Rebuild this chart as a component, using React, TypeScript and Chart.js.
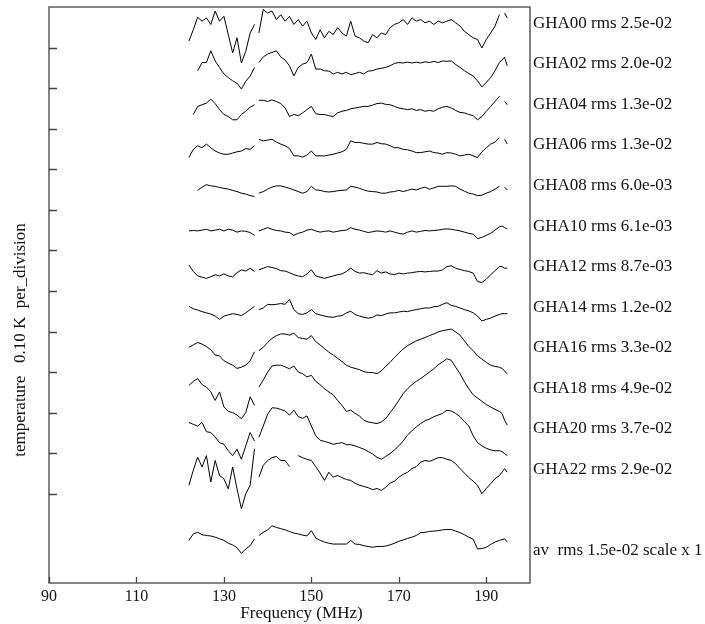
import React, { useEffect, useRef } from "react";
import { Chart, registerables } from "chart.js";

Chart.register(...registerables);

// frequency grid (MHz); entries 137.5 and 193.6 sit in the data gaps
const freqs = [
  122, 123, 124, 125, 126, 127, 128, 129, 130, 131, 132, 133, 134, 135, 136, 137,
  137.5,
  138, 139, 140, 141, 142, 143, 144, 145, 146, 147,
  148, 149, 150, 151, 152, 153, 154, 155, 156, 157,
  158, 159, 160, 161, 162, 163, 164, 165, 166, 167,
  168, 169, 170, 171, 172, 173, 174, 175, 176, 177,
  178, 179, 180, 181, 182, 183, 184, 185, 186, 187,
  188, 189, 190, 191, 192, 193,
  193.6, 194.2, 194.8,
];

// residuals in mK
const gha00 = [
  -44, -16, 15, 5, 13, -3, 30, 5, 17, -28, -73, -36, -98, -69, -24, -3,
  null,
  -24, 34, 25, 30, 9, 21, 5, 17, -3, 9,
  -7, 5, -24, -40, -16, -36, -20, -28, -11, -24,
  -32, 5, -32, -36, -44, -48, -28, -36, -24, -28,
  -11, -3, 1, 9, -3, 13, 5, 9, 1, 5,
  -3, 5, 1, 5, 9, 1, -7, -20, -28, -36,
  -40, -61, -40, -24, -7, 21,
  null, 25, 13,
];
const gha02 = [
  null, null, -17, 3, 3, 32, 7, -9, -25, -34, -42, -48, -62, -43, -30, -9,
  null,
  3, 17, 24, 28, 32, 17, 9, -5, -30, -9,
  -1, 3, 24, -13, -13, -17, -18, -25, -21, -25,
  -21, -27, -24, -21, -25, -18, -17, -13, -11, -9,
  -5, 1, 3, 2, 4, 2, 4, 2, 5, 3,
  6, 3, 7, 6, 7, -2, -9, -17, -24, -30,
  -42, -57, -46, -34, -17, 3,
  10, 16, -5,
];
const gha04 = [
  null, -25, -5, -1, 3, 13, 2, -13, -25, -30, -38, -38, -25, -17, -7, -1,
  null,
  10, 10, 7, 11, 7, 2, -9, -30, -25, -28,
  -21, -13, -5, -23, -25, -25, -28, -30, -21, -17,
  -15, -11, -9, -7, -5, -5, -2, 2, 3, 0,
  -1, -5, -9, -11, -13, -11, -15, -13, -17, -15,
  -17, -11, -7, -5, -9, -15, -20, -21, -25, -28,
  -38, -30, -17, -5, 7, 20,
  null, 7, -1,
];
const gha06 = [
  -31, -11, -2, -7, 2, -7, -15, -20, -23, -23, -20, -17, -15, -9, -11, -2,
  null,
  14, 10, 12, 14, 7, 2, -2, -9, -27, -27,
  -30, -25, -15, -27, -27, -27, -25, -23, -20, -17,
  -11, 10, 6, 6, 4, 2, 2, 6, 3, 2,
  -2, -7, -7, -11, -12, -15, -19, -19, -17, -15,
  -19, -20, -23, -19, -20, -23, -27, -25, -23, -27,
  -31, -17, -7, 2, 7, 18,
  null, 14, 2,
];
const gha08 = [
  null, null, -12, -4, 2, -1, -2, -5, -7, -9, -12, -15, -19, -21, -25, -27,
  null,
  -19, -15, -9, -4, -1, -1, -4, -7, -11, -15,
  -19, -15, -2, -11, -12, -15, -16, -15, -13, -12,
  -11, -2, -4, -7, -11, -14, -15, -16, -19, -19,
  -16, -15, -12, -15, -12, -9, -11, -7, -4, -9,
  -6, -2, -2, -2, -1, -2, -9, -14, -19, -21,
  -25, -24, -19, -15, -9, -2,
  null, -4, -11,
];
const gha10 = [
  -12, -11, -12, -10, -8, -12, -10, -8, -12, -8, -10, -15, -12, -13, -16, -23,
  null,
  -12, -8, -4, -8, -11, -12, -15, -16, -23, -18,
  -15, -10, -8, -12, -15, -13, -12, -15, -13, -11,
  -10, -4, -8, -10, -13, -16, -14, -12, -13, -15,
  -12, -15, -18, -20, -15, -12, -15, -13, -11, -12,
  -11, -10, -8, -7, -8, -10, -12, -15, -18, -20,
  -31, -28, -23, -18, -10, -2,
  0, -4, -7,
];
const gha12 = [
  4, -12, -23, -26, -29, -25, -20, -23, -18, -23, -25, -15, -8, -11, -4, -12,
  null,
  -8, -4, 0, -2, -5, -10, -11, -15, -20, -23,
  -25, -18, -8, -23, -26, -29, -26, -23, -20, -18,
  -12, -4, -12, -16, -15, -18, -20, -10, -16, -13,
  -18, -20, -16, -18, -16, -15, -13, -12, -13, -12,
  -11, -11, -8, 0, 2, -4, -7, -10, -12, -16,
  -37, -39, -31, -20, -10, 0,
  0, -4, -4,
];
const gha14 = [
  2, -4, -7, -11, -14, -17, -22, -30, -22, -19, -16, -18, -21, -14, -6, 2,
  null,
  -6, -2, 7, 6, 7, 9, 7, 19, -6, -16,
  -18, -14, -6, -16, -19, -22, -24, -25, -22, -21,
  -14, -10, -18, -22, -25, -27, -25, -19, -21, -17,
  -14, -14, -12, -10, -11, -8, -6, -4, -2, -2,
  1, 2, 7, 11, 4, 2, -2, -6, -9, -14,
  -22, -34, -30, -27, -22, -18,
  -16, -16, -16,
];
const gha16 = [
  1, 7, 13, 9, 3, -5, -18, -20, -32, -38, -43, -51, -48, -43, -32, -10,
  null,
  -7, 1, 13, 23, 30, 34, 34, 31, 36, 25,
  23, 21, 30, 15, 7, -2, -11, -18, -26, -34,
  -43, -48, -51, -54, -59, -61, -61, -64, -57, -46,
  -36, -24, -13, -3, 5, 11, 17, 21, 25, 30,
  34, 39, 42, 44, 46, 39, 31, 17, 3, -7,
  -20, -28, -36, -43, -46, -48,
  -51, -57, -65,
];
const gha18 = [
  7, 17, 24, 9, 3, -9, -30, -9, -46, -57, -60, -66, -75, -60, -21, -42,
  null,
  3, 20, 40, 55, 57, 57, 53, 48, 55, 40,
  36, 28, 32, 17, 9, -1, -9, -16, -30, -42,
  -57, -54, -62, -68, -79, -83, -85, -87, -83, -75,
  -60, -46, -30, -13, -1, 9, 17, 24, 32, 40,
  48, 58, 65, 73, 69, 52, 36, 16, -1, -16,
  -24, -32, -40, -46, -52, -57,
  -62, -79, -91,
];
const gha20 = [
  16, 11, 7, 16, -7, -9, -20, -34, -38, -54, -66, -50, -75, -42, -9, -30,
  null,
  -21, 7, 36, 52, 51, 48, 44, 34, 46, 30,
  26, 32, 7, -17, -28, -31, -34, -38, -36, -34,
  -39, -39, -42, -46, -50, -56, -62, -70, -75, -68,
  -61, -52, -42, -30, -15, -5, 5, 13, 20, 24,
  30, 34, 38, 46, 44, 38, 30, 18, 7, -17,
  -34, -42, -48, -52, -54, -54,
  -56, -61, -66,
];
const gha22 = [
  -39, -2, 30, 6, 34, -31, 22, -15, -23, -48, 6, -48, -97, -60, -39, 51,
  null,
  -19, 10, 22, 29, 32, 22, 22, 7, null, 34,
  29, 25, 22, 7, -9, -27, -7, -19, -15, -20,
  -25, -27, -34, -39, -42, -45, -50, -47, -52, -44,
  -34, -29, -19, -12, -7, 2, 7, 18, 22, 20,
  24, 29, 29, 25, 22, 14, 2, -9, -20, -29,
  -39, -60, -47, -35, -23, -15,
  -7, 2, -7,
];
const avg = [
  25, 41, 45, 39, 37, 36, 33, 29, 25, 18, 14, 7, -7, 4, 12, 29,
  null,
  37, 45, 51, 61, 57, 54, 51, 47, 43, 41,
  38, 36, 49, 31, 25, 21, 18, 16, 16, 16,
  16, 25, 16, 15, 12, 10, 8, 10, 10, 11,
  14, 18, 23, 26, 30, 33, 37, 44, 45, 47,
  48, 49, 51, 52, 52, 48, 44, 39, 33, 28,
  4, 5, 8, 15, 21, 25,
  27, 29, 21,
];

const series = [gha00, gha02, gha04, gha06, gha08, gha10, gha12, gha14, gha16, gha18, gha20, gha22, avg];
const seriesLabels = [
  "GHA00 rms 2.5e-02",
  "GHA02 rms 2.0e-02",
  "GHA04 rms 1.3e-02",
  "GHA06 rms 1.3e-02",
  "GHA08 rms 6.0e-03",
  "GHA10 rms 6.1e-03",
  "GHA12 rms 8.7e-03",
  "GHA14 rms 1.2e-02",
  "GHA16 rms 3.3e-02",
  "GHA18 rms 4.9e-02",
  "GHA20 rms 3.7e-02",
  "GHA22 rms 2.9e-02",
  "av  rms 1.5e-02 scale x 1",
];
// vertical offset of each trace (K), 0.10 K per division
const offsetsK = [1.26, 1.16, 1.06, 0.96, 0.86, 0.76, 0.66, 0.56, 0.46, 0.36, 0.26, 0.16, -0.04];

const xTicks = [90, 110, 130, 150, 170, 190];
const yTicks = [0.1, 0.2, 0.3, 0.4, 0.5, 0.6, 0.7, 0.8, 0.9, 1.0, 1.1, 1.2];
const xTitle = "Frequency (MHz)";
const yTitle = "temperature   0.10 K  per_division";

const SERIF = "'Liberation Serif', 'Times New Roman', Times, serif";

const framePlugin = {
  id: "frame",
  afterDraw(chart: any) {
    const ctx = chart.ctx;
    const { left, right, top, bottom } = chart.chartArea;
    const xs = chart.scales.x;
    const ys = chart.scales.y;
    ctx.save();
    // box
    ctx.strokeStyle = "#444";
    ctx.lineWidth = 1.3;
    ctx.strokeRect(left, top, right - left, bottom - top);
    // inward ticks
    ctx.beginPath();
    for (const v of xTicks) {
      const px = Math.round(xs.getPixelForValue(v)) + 0.5;
      ctx.moveTo(px, bottom);
      ctx.lineTo(px, bottom - 6);
    }
    for (const v of yTicks) {
      const py = Math.round(ys.getPixelForValue(v)) + 0.5;
      ctx.moveTo(left, py);
      ctx.lineTo(left + 8, py);
    }
    ctx.stroke();
    // tick labels
    ctx.fillStyle = "#111";
    ctx.font = `16px ${SERIF}`;
    ctx.textAlign = "center";
    ctx.textBaseline = "alphabetic";
    for (const v of xTicks) {
      ctx.fillText(String(v), xs.getPixelForValue(v), bottom + 18);
    }
    // x title
    ctx.font = `17px ${SERIF}`;
    ctx.fillText(xTitle, (left + right) / 2 + 12, bottom + 35);
    // y title
    ctx.save();
    ctx.translate(25, (top + bottom) / 2 + 45);
    ctx.rotate(-Math.PI / 2);
    ctx.textAlign = "center";
    ctx.fillText(yTitle, 0, 0);
    ctx.restore();
    // trace labels on the right
    ctx.textAlign = "left";
    ctx.textBaseline = "middle";
    seriesLabels.forEach((lab, i) => {
      ctx.fillText(lab, right + 3, ys.getPixelForValue(offsetsK[i]));
    });
    ctx.restore();
  },
};

export default function App() {
  const ref = useRef<HTMLCanvasElement | null>(null);
  useEffect(() => {
    if (!ref.current) return;
    const datasets = series.map((vals, i) => ({
      label: seriesLabels[i],
      data: freqs.map((f, j) => ({
        x: f,
        y: vals[j] === null ? null : offsetsK[i] + (vals[j] as number) / 1000,
      })),
      borderColor: "#000",
      borderWidth: 1,
      pointRadius: 0,
      tension: 0,
      spanGaps: false,
      fill: false,
    }));
    const chart = new Chart(ref.current, {
      type: "line",
      data: { datasets },
      options: {
        animation: false,
        responsive: false,
        devicePixelRatio: 1,
        layout: { padding: { left: 49, top: 7, right: 175, bottom: 41 } },
        plugins: { legend: { display: false }, tooltip: { enabled: false } },
        scales: {
          x: { type: "linear", min: 90, max: 200, display: false },
          y: { type: "linear", min: -0.12, max: 1.3, display: false },
        },
      },
      plugins: [framePlugin],
    });
    return () => chart.destroy();
  }, []);
  return (
    <div style={{ position: "fixed", left: 0, top: 0, width: 705, height: 624, background: "#fff" }}>
      <canvas ref={ref} width={705} height={624} style={{ width: 705, height: 624 }} />
    </div>
  );
}
